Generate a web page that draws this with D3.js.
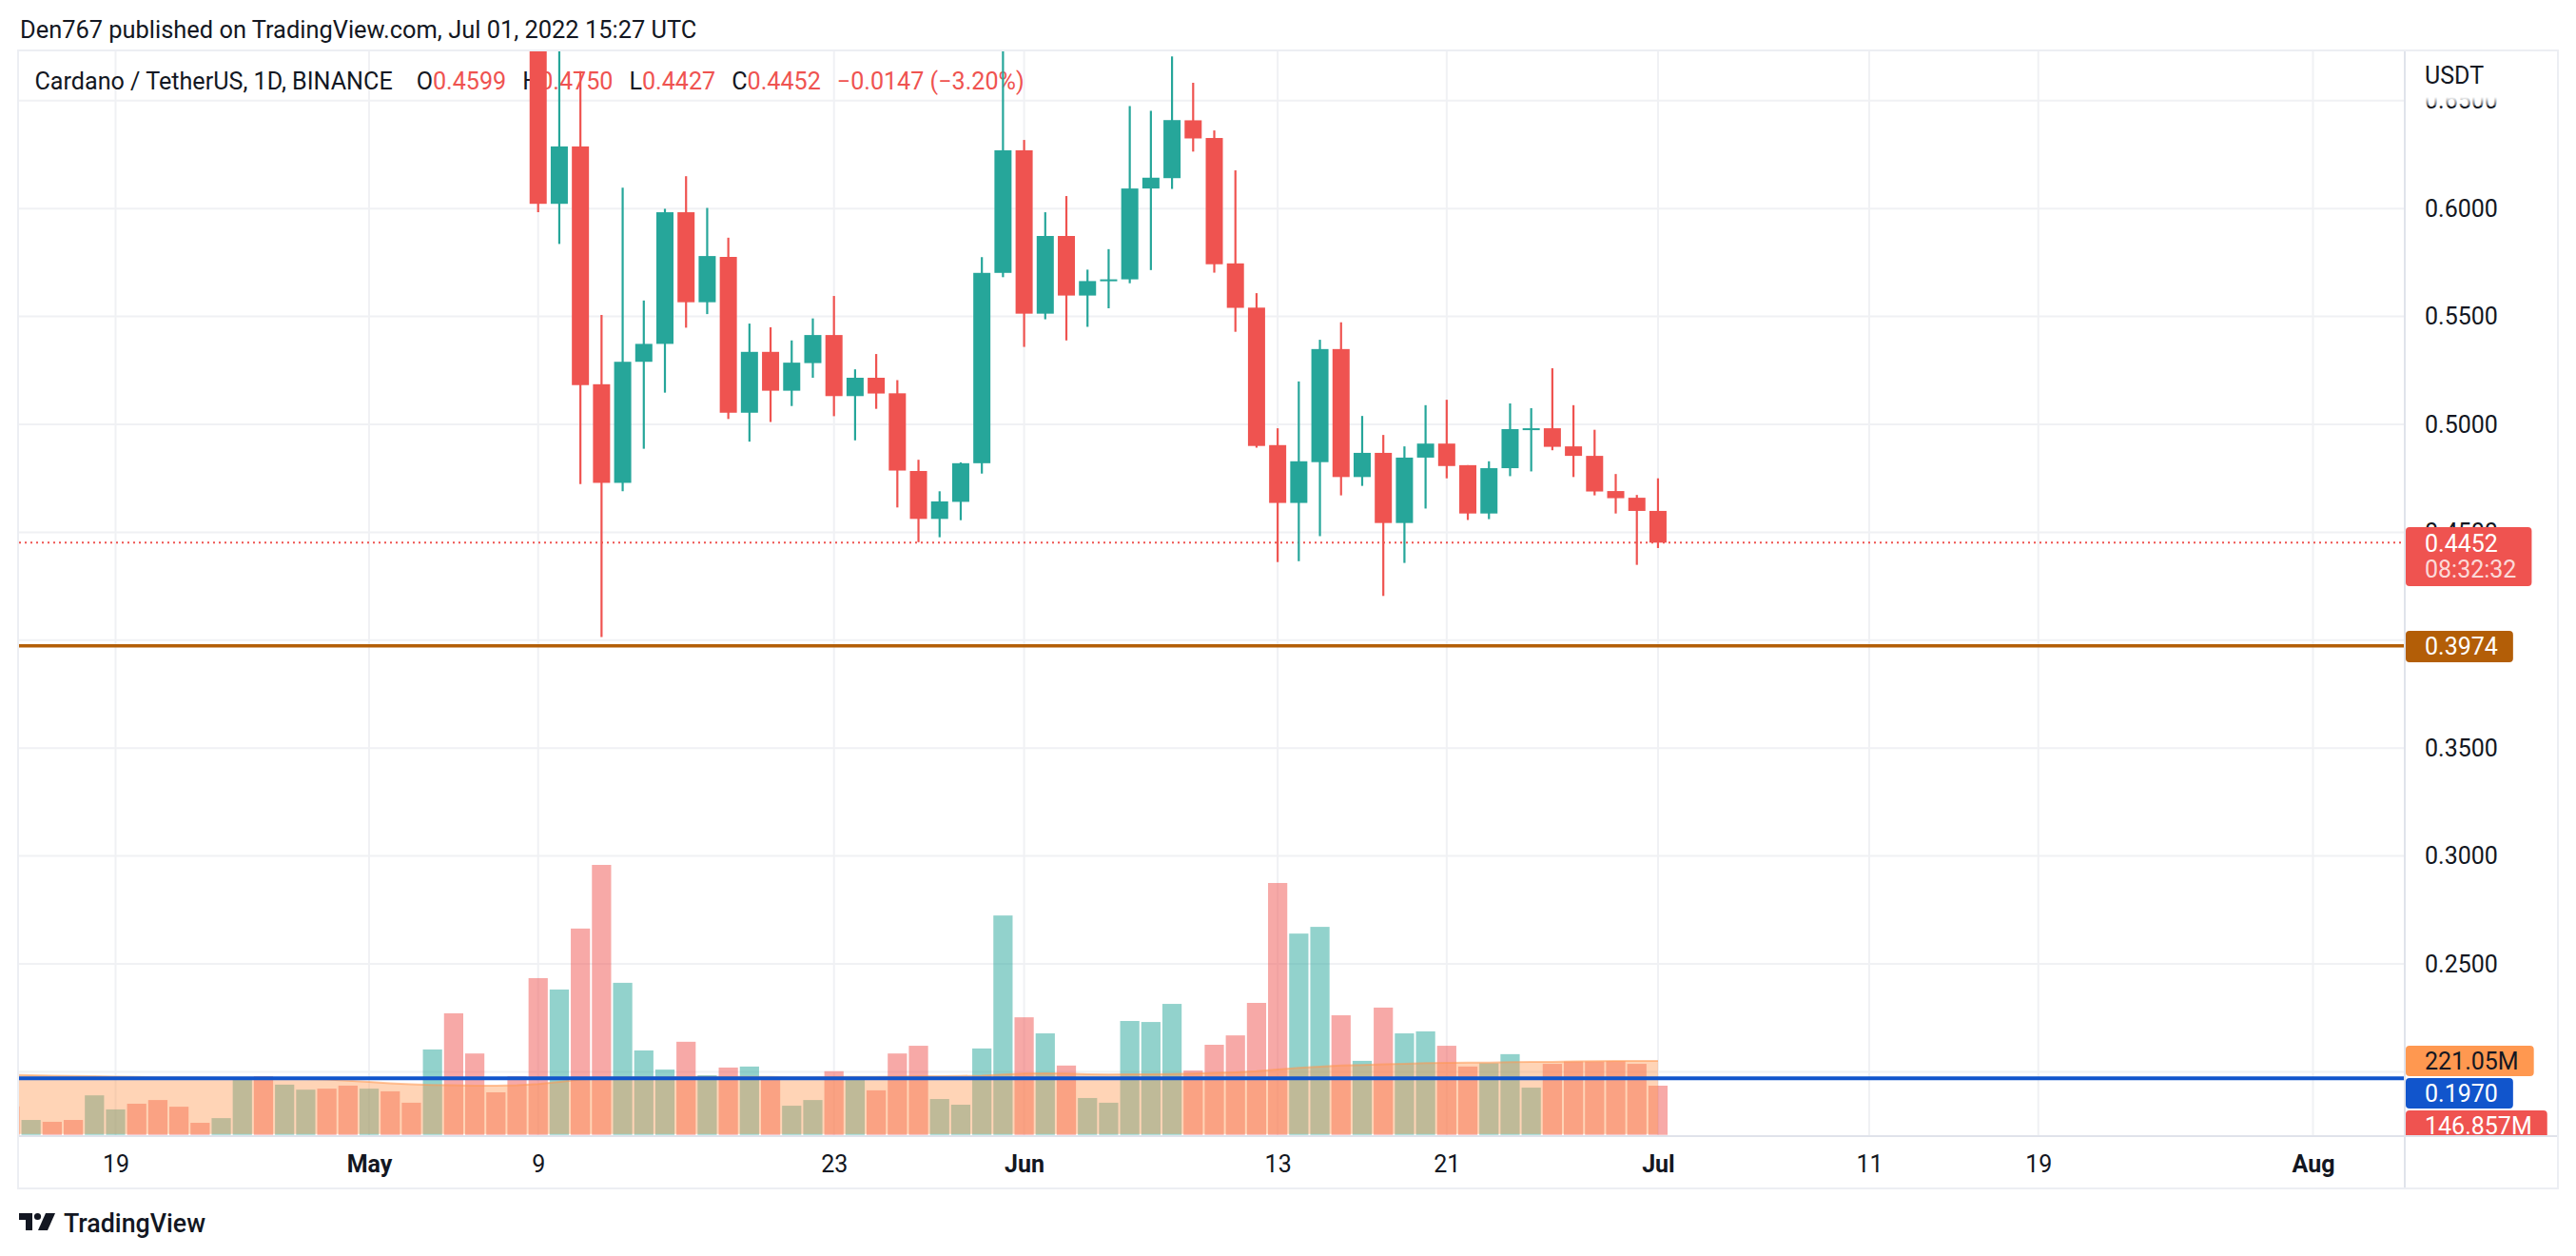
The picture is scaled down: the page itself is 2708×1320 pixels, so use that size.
<!DOCTYPE html>
<html><head><meta charset="utf-8">
<script src="https://cdn.jsdelivr.net/npm/d3@7"></script>
<style>
html,body{margin:0;padding:0;background:#fff;}
svg{display:block;font-family:Roboto,"Noto Sans",sans-serif;}
</style></head><body>
<svg id="c" width="2708" height="1320"></svg>
<script>
// ---------- DATA ----------
const dates = [
"2022-04-14","2022-04-15","2022-04-16","2022-04-17","2022-04-18","2022-04-19","2022-04-20","2022-04-21","2022-04-22","2022-04-23","2022-04-24","2022-04-25","2022-04-26","2022-04-27","2022-04-28","2022-04-29","2022-04-30",
"2022-05-01","2022-05-02","2022-05-03","2022-05-04","2022-05-05","2022-05-06","2022-05-07","2022-05-08","2022-05-09","2022-05-10","2022-05-11","2022-05-12","2022-05-13","2022-05-14","2022-05-15","2022-05-16","2022-05-17","2022-05-18","2022-05-19","2022-05-20","2022-05-21","2022-05-22","2022-05-23","2022-05-24","2022-05-25","2022-05-26","2022-05-27","2022-05-28","2022-05-29","2022-05-30","2022-05-31",
"2022-06-01","2022-06-02","2022-06-03","2022-06-04","2022-06-05","2022-06-06","2022-06-07","2022-06-08","2022-06-09","2022-06-10","2022-06-11","2022-06-12","2022-06-13","2022-06-14","2022-06-15","2022-06-16","2022-06-17","2022-06-18","2022-06-19","2022-06-20","2022-06-21","2022-06-22","2022-06-23","2022-06-24","2022-06-25","2022-06-26","2022-06-27","2022-06-28","2022-06-29","2022-06-30",
"2022-07-01"];
const opens = [
.951,.925,.949,.944,.911,.948,.966,.953,.927,.902,.900,.904,.915,.842,.856,.868,.815,
.777,.806,.803,.790,.874,.797,.786,.762,.7153,.6022,.6288,.5186,.4729,.5290,.5373,.5983,.5566,.5776,.5054,.5336,.5156,.5284,.5414,.5131,.5216,.5144,.4784,.4562,.4641,.4820,.5702,
.6270,.5513,.5873,.5597,.5664,.5672,.6093,.6141,.6409,.6327,.5746,.5541,.4904,.4636,.4825,.5349,.4756,.4868,.4543,.4846,.4911,.4811,.4587,.4797,.4978,.4982,.4898,.4854,.4691,.4660,
.4599];
const highs = [
.966,.955,.958,.955,.953,.975,.988,1.000,.940,.918,.915,.925,.919,.876,.876,.872,.832,
.810,.823,.818,.880,.890,.804,.790,.767,.7254,.6850,.6637,.5507,.6097,.5574,.5999,.6150,.6003,.5865,.5467,.5450,.5389,.5491,.5595,.5255,.5326,.5205,.4836,.4690,.4824,.5775,.6800,
.6318,.5983,.6058,.5717,.5812,.6475,.6453,.6705,.6583,.6362,.6177,.5608,.4982,.5199,.5392,.5473,.5039,.4951,.4898,.5089,.5114,.4811,.4829,.5097,.5075,.5260,.5089,.4975,.4770,.4673,
.4750];
const lows = [
.916,.918,.935,.907,.884,.935,.944,.917,.896,.895,.879,.846,.840,.831,.836,.803,.776,
.758,.778,.786,.786,.780,.770,.752,.700,.5983,.5836,.4723,.4015,.4690,.4887,.5147,.5448,.5511,.5025,.4920,.5011,.5085,.5216,.5038,.4926,.5072,.4615,.4454,.4477,.4556,.4772,.5682,
.5359,.5487,.5389,.5452,.5538,.5654,.5715,.6091,.6264,.5703,.5429,.4892,.4362,.4366,.4482,.4671,.4715,.4205,.4358,.4610,.4750,.4557,.4561,.4760,.4782,.4880,.4756,.4671,.4587,.4349,
.4427];
const closes = [
.925,.949,.944,.911,.948,.966,.953,.927,.902,.900,.904,.915,.842,.856,.868,.815,.777,
.806,.803,.790,.874,.797,.786,.762,.7153,.6022,.6288,.5182,.4729,.5290,.5373,.5983,.5566,.5780,.5054,.5336,.5156,.5286,.5414,.5131,.5216,.5143,.4786,.4562,.4643,.4820,.5702,.6270,
.5513,.5873,.5597,.5664,.5672,.6093,.6143,.6410,.6325,.5742,.5540,.4900,.4636,.4829,.5349,.4756,.4868,.4543,.4846,.4911,.4807,.4587,.4797,.4978,.4982,.4896,.4854,.4689,.4658,.4599,
.4452];
// volume in millions
const volumes = [
85,44.5,39,44.5,118,76,93,104,84,36,50,172,175,150,135,138,147,
138,130,96,255,363,243,127,175,468,434,616,806,454,252,195,278,178,201,204,172,87,104,190,170,133,243,266,107,90,258,655,
351,303,207,110,96,340,337,391,192,269,297,394,752,601,621,357,221,380,303,309,266,204,214,241,141,212,219,219,220,212,
146.857];
const volumeMA = [
179,178,177,176,175,174,173,172,172,171,170,170,170,169,167,165,162,
158,154,151,149,148,147,147,148,152,158,165,170,172,172,172,173,173,173,173,173,172,172,173,173,173,174,175,175,176,177,180,
183,184,183,181,180,181,181,182,183,185,187,190,195,200,204,207,209,211,212,214,215,216,216,217,218,218,219,220,221,221,
221.05];
const priceGrid = [0.20,0.25,0.30,0.35,0.40,0.45,0.50,0.55,0.60,0.65];
const priceLabels = [0.25,0.30,0.35,0.45,0.50,0.55,0.60,0.65];
const timeTickDates = ["2022-04-19","2022-05-01","2022-05-09","2022-05-23","2022-06-01","2022-06-13","2022-06-21","2022-07-01","2022-07-11","2022-07-19","2022-08-01"];
const timeTickLabels = ["19","May","9","23","Jun","13","21","Jul","11","19","Aug"];
const monthLabels = ["May","Jun","Jul","Aug"];
const lastPrice = 0.4452, countdown = "08:32:32";
const supportLevel = 0.3974;
const blueLevel = 0.1970;
const legend = {title:"Cardano / TetherUS, 1D, BINANCE", O:"0.4599", H:"0.4750", L:"0.4427", C:"0.4452", chg:"\u22120.0147 (\u22123.20%)"};
const header = "Den767 published on TradingView.com, Jul 01, 2022 15:27 UTC";

// ---------- LAYOUT ----------
const UP = "#26a69a", DOWN = "#ef5350", TXT = "#131722", GRID = "#f0f1f4", BORDER = "#e0e3eb";
const PL = 20, PRt = 2528, PT = 53, PB = 1193, BOT = 1249, PANEL_R = 2689;
const svg = d3.select("#c");
const parse = d3.utcParse("%Y-%m-%d");
const data = dates.map((d,i)=>({date:parse(d),o:opens[i],h:highs[i],l:lows[i],c:closes[i],v:volumes[i],ma:volumeMA[i]}));

const x = d3.scaleUtc().domain([parse("2022-04-19"), parse("2022-08-01")]).range([121.5, 2431.5]);
const y = d3.scaleLinear().domain([0.35, 0.60]).range([786.2, 219.2]);
const yv = d3.scaleLinear().domain([0, 800]).range([1192.7, 911.1]);

const defs = svg.append("defs");
defs.append("clipPath").attr("id","plot").append("rect").attr("x",PL).attr("y",PT).attr("width",PRt-PL).attr("height",PB-PT);
defs.append("clipPath").attr("id","panel").append("rect").attr("x",PRt).attr("y",PT).attr("width",PANEL_R-PRt).attr("height",PB-PT);
const fade = defs.append("linearGradient").attr("id","fade").attr("x1",0).attr("y1",0).attr("x2",0).attr("y2",1);
fade.append("stop").attr("offset","0").attr("stop-color","#fff").attr("stop-opacity",1);
fade.append("stop").attr("offset","1").attr("stop-color","#fff").attr("stop-opacity",0.3);

svg.append("rect").attr("width",2708).attr("height",1320).attr("fill","#fff");

// header
const hd = svg.append("text").attr("x",21).attr("y",40).attr("fill",TXT).attr("font-size",22).text(header);
{ const w = hd.node().getComputedTextLength(); hd.attr("font-size", 22*712/w); }

// gridlines
const grid = svg.append("g").attr("clip-path","url(#plot)");
grid.selectAll("line.h").data(priceGrid).join("line").attr("class","h")
  .attr("x1",PL).attr("x2",PRt).attr("y1",d=>y(d)).attr("y2",d=>y(d))
  .attr("stroke",GRID).attr("stroke-width",2);
grid.selectAll("line.v").data(timeTickDates).join("line").attr("class","v")
  .attr("x1",d=>x(parse(d))).attr("x2",d=>x(parse(d))).attr("y1",PT).attr("y2",PB)
  .attr("stroke",GRID).attr("stroke-width",2);

// legend
const lg = svg.append("text").attr("x",36.5).attr("y",85).attr("dominant-baseline","central").attr("font-size",24).attr("fill",TXT);
lg.append("tspan").text(legend.title);
const parts = [["O",legend.O,25],["H",legend.H,17],["L",legend.L,17],["C",legend.C,17]];
parts.forEach(p=>{ lg.append("tspan").attr("dx",p[2]).attr("fill",TXT).text(p[0]); lg.append("tspan").attr("fill",DOWN).text(p[1]); });
lg.append("tspan").attr("dx",17).attr("fill",DOWN).text(legend.chg);
{ const gaps = 25+17*4; const w = lg.node().getBBox().width; lg.attr("font-size", 24*(1041-gaps)/(w-gaps)); }

// plot contents
const plot = svg.append("g").attr("clip-path","url(#plot)");
const step = x(parse("2022-04-20")) - x(parse("2022-04-19"));
const barW = step*0.91, bodyW = step*0.81;

// volume bars
plot.append("g").selectAll("rect").data(data).join("rect")
  .attr("x",d=>x(d.date)-barW/2).attr("width",barW)
  .attr("y",d=>yv(d.v)).attr("height",d=>yv(0)-yv(d.v))
  .attr("fill",d=>d.c>=d.o?UP:DOWN).attr("fill-opacity",0.5);

// volume MA area
const area = d3.area().x(d=>x(d.date)).y0(yv(0)-1).y1(d=>yv(d.ma));
plot.append("path").datum(data).attr("d",area).attr("fill","#ff9850").attr("fill-opacity",0.42);
plot.append("path").datum(data).attr("d",d3.line().x(d=>x(d.date)).y(d=>yv(d.ma)))
  .attr("fill","none").attr("stroke","#ff9850").attr("stroke-opacity",0.55).attr("stroke-width",2);

// last price dotted line
plot.append("line").attr("x1",PL).attr("x2",PRt).attr("y1",y(lastPrice)).attr("y2",y(lastPrice))
  .attr("stroke",DOWN).attr("stroke-width",2).attr("stroke-dasharray","2,4");

// candles
const cg = plot.append("g").selectAll("g").data(data).join("g");
cg.append("line").attr("x1",d=>x(d.date)).attr("x2",d=>x(d.date))
  .attr("y1",d=>y(d.h)).attr("y2",d=>y(d.l))
  .attr("stroke",d=>d.c>=d.o?UP:DOWN).attr("stroke-width",2.2);
cg.append("rect").attr("x",d=>x(d.date)-bodyW/2).attr("width",bodyW)
  .attr("y",d=>y(Math.max(d.o,d.c)))
  .attr("height",d=>Math.max(2, y(Math.min(d.o,d.c))-y(Math.max(d.o,d.c))))
  .attr("fill",d=>d.c>=d.o?UP:DOWN);

// horizontal drawn levels
plot.append("line").attr("x1",PL).attr("x2",PRt).attr("y1",y(supportLevel)).attr("y2",y(supportLevel))
  .attr("stroke","#b35e07").attr("stroke-width",3.6);
plot.append("line").attr("x1",PL).attr("x2",PRt).attr("y1",y(blueLevel)).attr("y2",y(blueLevel))
  .attr("stroke","#1155cc").attr("stroke-width",4);

// price axis
const ax = svg.append("g").attr("transform",`translate(${PRt},0)`)
  .call(d3.axisRight(y).tickValues(priceLabels).tickFormat(d3.format(".4f")).tickSize(0).tickPadding(21));
ax.select(".domain").remove();
ax.selectAll("text").attr("font-size",25).attr("fill",TXT).attr("font-family","Roboto, sans-serif");
ax.attr("font-size",25);

// USDT header cover (fades the top tick label)
svg.append("rect").attr("x",PRt+2).attr("y",PT+1).attr("width",PANEL_R-PRt-3).attr("height",48).attr("fill","#fff");
svg.append("rect").attr("x",PRt+2).attr("y",PT+49).attr("width",PANEL_R-PRt-3).attr("height",9).attr("fill","url(#fade)");
svg.append("text").attr("x",2549).attr("y",79).attr("dominant-baseline","central").attr("font-size",25).attr("fill",TXT).text("USDT");

// time axis
const tx = svg.append("g").attr("transform",`translate(0,${PB})`)
  .call(d3.axisBottom(x).tickValues(timeTickDates.map(parse)).tickFormat((d,i)=>timeTickLabels[i]).tickSize(0).tickPadding(21));
tx.select(".domain").remove();
tx.selectAll("text").attr("font-size",25).attr("fill",TXT).attr("font-family","Roboto, sans-serif")
  .attr("font-weight",(d,i)=>monthLabels.includes(timeTickLabels[i])?700:400);
tx.attr("font-size",25);

// frame & separators
svg.append("line").attr("x1",PRt).attr("x2",PRt).attr("y1",PT).attr("y2",BOT).attr("stroke",BORDER).attr("stroke-width",2);
svg.append("line").attr("x1",PL).attr("x2",PANEL_R).attr("y1",PB+1).attr("y2",PB+1).attr("stroke",BORDER).attr("stroke-width",2);
svg.append("rect").attr("x",PL-1).attr("y",PT).attr("width",PANEL_R-PL+1).attr("height",BOT-PT)
  .attr("fill","none").attr("stroke","#eceef3").attr("stroke-width",2);

// price-axis labels (boxes)
const panel = svg.append("g").attr("clip-path","url(#panel)");
function boxLabel(lines, yTop, h, fill, color){
  const g = panel.append("g");
  const rect = g.append("rect").attr("x",PRt+1).attr("y",yTop).attr("height",h).attr("rx",4).attr("fill",fill);
  let maxW = 0;
  lines.forEach(ln=>{
    const t = g.append("text").attr("x",2549).attr("y",ln.y).attr("dominant-baseline","central")
      .attr("font-size",25).attr("fill",color).attr("fill-opacity",ln.op||1).text(ln.t);
    maxW = Math.max(maxW, t.node().getComputedTextLength());
  });
  rect.attr("width", 2549-PRt-1 + maxW + 16);
}
boxLabel([{t:d3.format(".4f")(lastPrice),y:y(lastPrice)+1},{t:countdown,y:598,op:0.8}], 554, 62, DOWN, "#fff");
boxLabel([{t:d3.format(".4f")(supportLevel),y:y(supportLevel)+0.5}], 663, 33, "#b35e07", "#fff");
boxLabel([{t:d3.format(".2f")(volumeMA[volumeMA.length-1])+"M",y:1115}], 1099, 32, "#ff9850", TXT);
boxLabel([{t:d3.format(".4f")(blueLevel),y:1149}], 1133, 32, "#1155cc", "#fff");
boxLabel([{t:d3.format(".3f")(volumes[volumes.length-1])+"M",y:1183}], 1167, 32, DOWN, "#fff");

// TradingView logo
const logo = svg.append("g").attr("fill",TXT);
logo.append("path").attr("d","M20,1275 H34 V1293 H27 V1282 H20 Z");
logo.append("circle").attr("cx",39.5).attr("cy",1278.5).attr("r",3.6);
logo.append("path").attr("d","M48,1275 H58 L50,1293 H40 Z");
const tv = svg.append("text").attr("x",67).attr("y",1286).attr("dominant-baseline","central")
  .attr("font-size",26).attr("font-weight",500).attr("fill",TXT).text("TradingView");
{ const w = tv.node().getComputedTextLength(); tv.attr("font-size", 26*149/w); }
</script>
</body></html>
